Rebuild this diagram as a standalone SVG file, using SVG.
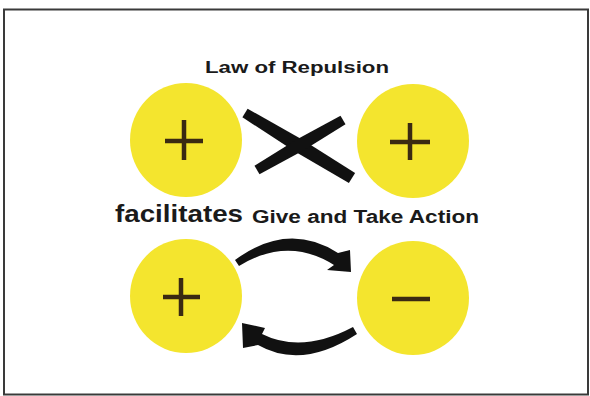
<svg xmlns="http://www.w3.org/2000/svg" width="590" height="396" viewBox="0 0 590 396">
<style>
.ball{fill:#f4e52e}
.sign{stroke:#3a2a12;stroke-width:4.5;stroke-linecap:butt;fill:none}
.ink{fill:#111}
.t{font-family:"Liberation Sans",Arial,sans-serif;font-weight:bold;fill:#1a1a1a}
</style>
<rect x="0" y="0" width="590" height="396" fill="#ffffff"/>
<rect x="4" y="9.5" width="584" height="385" fill="none" stroke="#3a3a3a" stroke-width="2"/>
<g id="title">
<text class="t" x="205" y="73" font-size="16" textLength="184" lengthAdjust="spacingAndGlyphs">Law of Repulsion</text>
</g>
<g id="subtitle">
<text class="t" x="115" y="222" font-size="24" textLength="128" lengthAdjust="spacingAndGlyphs">facilitates</text>
<text class="t" x="252" y="223" font-size="17.5" textLength="227" lengthAdjust="spacingAndGlyphs">Give and Take Action</text>
</g>
<g id="top-left-plus">
<ellipse class="ball" cx="186" cy="140" rx="56" ry="57"/>
<path class="sign" d="M165 141H203M184 120V160"/>
</g>
<g id="top-right-plus">
<ellipse class="ball" cx="413" cy="141" rx="56" ry="57"/>
<path class="sign" d="M390 142H430M410 123V160"/>
</g>
<g id="bottom-left-plus">
<ellipse class="ball" cx="186" cy="296" rx="56" ry="57"/>
<path class="sign" d="M163 297H200M181 278V316"/>
</g>
<g id="bottom-right-minus">
<ellipse class="ball" cx="413" cy="298" rx="56" ry="57"/>
<path class="sign" d="M392 299H430" stroke-width="5"/>
</g>
<g id="connectors">
<path class="ink" d="M247.6 108.7 L302.1 139.5 L355.1 172.9 L348.9 183.1 L294.9 151.5 L242.4 117.3 Z"/>
<path class="ink" d="M259.5 174.3 L303.3 150.6 L345.5 124.3 L340.5 115.7 L296.7 139.4 L254.5 165.7 Z"/>
<path class="ink" d="M235 260 Q288 221 338 253 L350 250 L351 272 L327 270 L334 265 Q288 236 239 266 Z"/>
<path class="ink" d="M357 334 Q302 370 258 345 L243 348 L242 323 L265 328 L262 334 Q302 354 353 327 Z"/>
</g>
</svg>
